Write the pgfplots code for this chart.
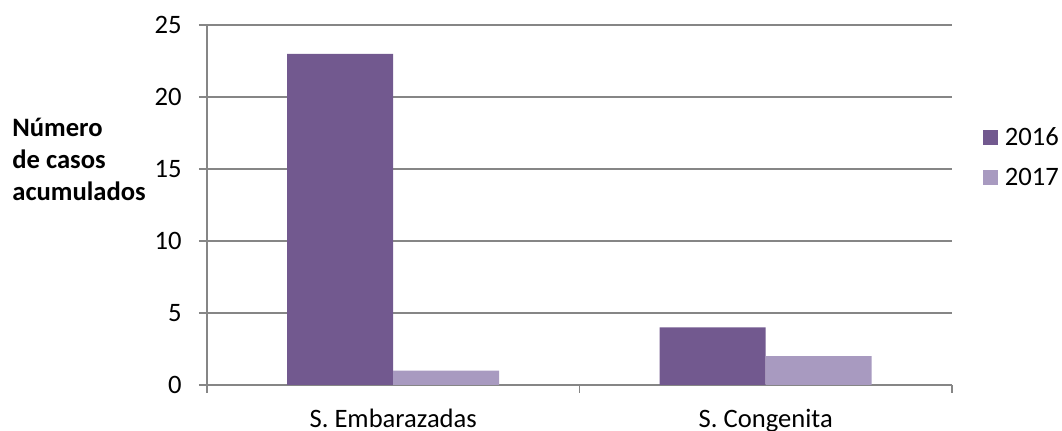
\documentclass[border=0pt]{standalone}
\usepackage{pgfplots}
\pgfplotsset{compat=1.18}
\usepackage{fontspec}
\setmainfont{Carlito}
\definecolor{c2016}{RGB}{114,89,143}
\definecolor{c2017}{RGB}{168,154,192}
\definecolor{axgray}{RGB}{134,134,134}

\begin{document}
\begin{tikzpicture}
	\useasboundingbox (-103.5pt,-23pt) rectangle (427.5pt,192.5pt);
	\begin{axis}[
		scale only axis,
		clip=false,
		width=372.5pt,
		height=180pt,
		ybar=0pt,
		bar width=53pt,
		xmin=-0.5, xmax=1.5,
		ymin=0, ymax=25,
		ytick={0,5,10,15,20,25},
		xtick={-0.5,0.5,1.5},
		xticklabels={},
		extra x ticks={0,1},
		extra x tick labels={S. Embarazadas, S. Congenita},
		extra x tick style={major tick length=0pt, grid=none},
		axis x line*=bottom,
		axis y line*=left,
		axis line style={axgray, line width=0.75pt, -},
		ymajorgrids,
		grid style={axgray, line width=0.75pt},
		tick style={axgray, line width=0.75pt},
		major tick length=4pt,
		tick align=outside,
		font=\fontsize{13.3}{16}\selectfont,
		/pgf/number format/assume math mode=true,
		yticklabel style={anchor=east, inner sep=0pt, xshift=-8.5pt},
		xticklabel style={anchor=base, inner sep=0pt},
		extra x tick style={xticklabel style={anchor=base, yshift=-21.5pt}},
		legend style={draw=none, fill=none, at={(1.033,0.633)}, anchor=west,
			font=\fontsize{13.3}{16}\selectfont, row sep=11.6pt,
			nodes={inner sep=0pt, text height=8.4pt, text depth=0pt},
			/tikz/every odd column/.append style={column sep=3.5pt}},
		legend cell align=left,
		legend image code/.code={\fill[#1] (0pt,-3.75pt) rectangle (7.5pt,3.75pt);},
	]
	\addplot+[fill=c2016, draw=none] coordinates {(0,23) (1,4)};
	\addplot+[fill=c2017, draw=none] coordinates {(0,1) (1,2)};
	\legend{2016,2017}
	\node[anchor=west, align=left, inner sep=0pt, font=\fontsize{13.3}{16}\selectfont\bfseries]
		at (rel axis cs:-0.2617,0.6278) {Número\\de casos\\acumulados};
	\end{axis}
\end{tikzpicture}
\end{document}
